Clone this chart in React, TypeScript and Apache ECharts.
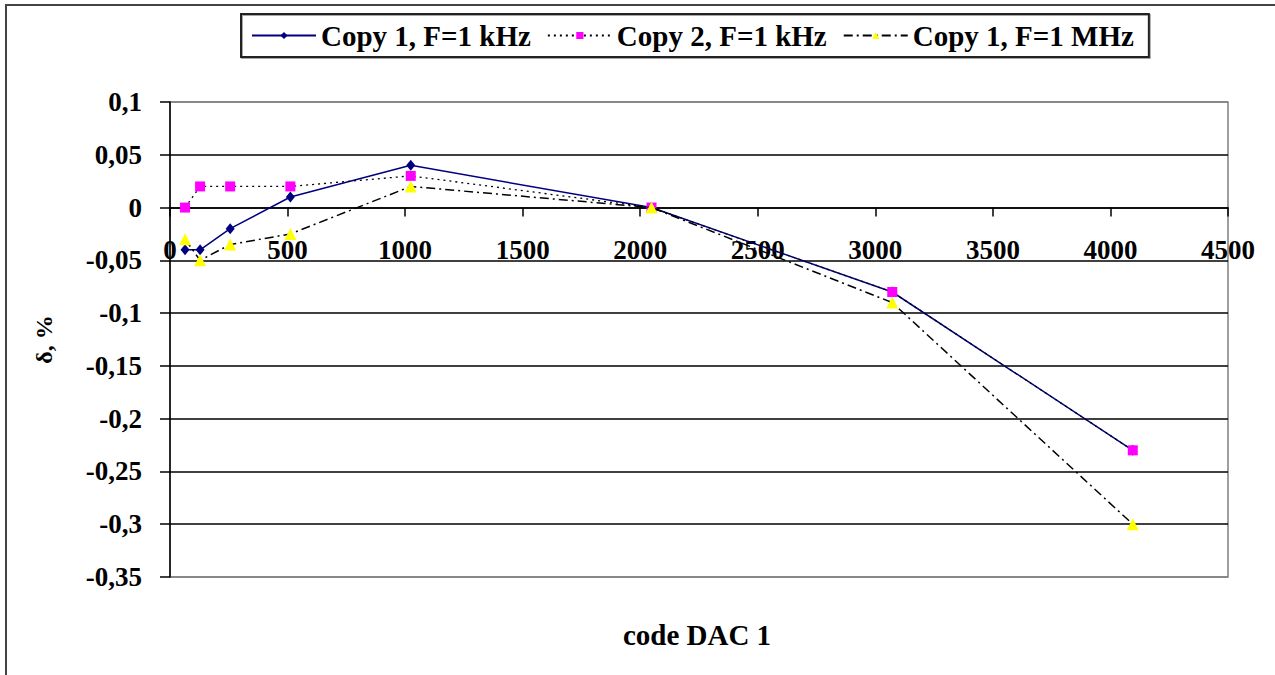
import React, { useEffect, useRef } from "react";
import * as echarts from "echarts";

// DAC codes on the horizontal axis
const codes = [64, 128, 256, 512, 1024, 2048, 3072, 4095];
// Relative error δ, % for each copy / frequency
const copy1kHz = [-0.04, -0.04, -0.02, 0.01, 0.04, 0, -0.08, -0.23];
const copy2kHz = [0, 0.02, 0.02, 0.02, 0.03, 0, -0.08, -0.23];
const copy1MHz = [-0.03, -0.05, -0.035, -0.025, 0.02, 0, -0.09, -0.3];

const seriesNames = ["Copy 1, F=1 kHz", "Copy 2, F=1 kHz", "Copy 1, F=1 MHz"];

const FONT = '"Liberation Serif", "Times New Roman", serif';

const Y_MIN = -0.35;
const Y_MAX = 0.1;
const GRID_TOP = 102;
const GRID_BOTTOM = 98;
const CHART_H = 675;

const pairs = (ys: number[]) => codes.map((c, i) => [c, ys[i]]);

export default function App() {
  const ref = useRef<HTMLDivElement>(null);

  useEffect(() => {
    if (!ref.current) return;
    const chart = echarts.init(ref.current, undefined, { renderer: "svg" });

    // horizontal axis crosses the vertical one at δ = 0
    const plotH = CHART_H - GRID_TOP - GRID_BOTTOM;
    const zeroFromBottom = ((0 - Y_MIN) / (Y_MAX - Y_MIN)) * plotH;

    const gridColors = ["#808080", "#000", "#000", "#000", "#000", "#000", "#000", "#000", "#000", "#808080"];

    chart.setOption({
      animation: false,
      backgroundColor: "#fff",
      textStyle: { fontFamily: FONT },
      grid: {
        show: true,
        left: 170,
        right: 47,
        top: GRID_TOP,
        bottom: GRID_BOTTOM,
        borderColor: "#808080",
        borderWidth: 1.5,
        backgroundColor: "transparent",
      },
      legend: {
        left: 241,
        top: 14,
        padding: [7, 15, 7, 10],
        itemGap: 16,
        itemWidth: 64,
        itemHeight: 9,
        borderColor: "#222",
        borderWidth: 2,
        shadowColor: "rgba(0,0,0,0.35)",
        shadowOffsetX: 1,
        shadowOffsetY: 1,
        textStyle: {
          fontFamily: FONT,
          fontWeight: "bold",
          fontSize: 29,
          color: "#000",
          lineHeight: 29,
        },
        data: seriesNames,
      },
      xAxis: {
        type: "value",
        min: 0,
        max: 4500,
        interval: 500,
        position: "bottom",
        offset: -zeroFromBottom,
        axisLine: { show: true, onZero: false, lineStyle: { color: "#000", width: 1.5 } },
        axisTick: { show: true, length: 9, lineStyle: { color: "#000", width: 1.5 } },
        axisLabel: {
          margin: 29,
          fontFamily: FONT,
          fontWeight: "bold",
          fontSize: 27,
          color: "#000",
          formatter: (v: number) => String(v),
        },
        splitLine: { show: false },
      },
      yAxis: {
        type: "value",
        min: Y_MIN,
        max: Y_MAX,
        interval: 0.05,
        name: "δ, %",
        nameLocation: "middle",
        nameGap: 114,
        nameRotate: 90,
        nameTextStyle: { fontFamily: FONT, fontWeight: "bold", fontSize: 24, color: "#000" },
        axisLine: { show: true, lineStyle: { color: "#000", width: 1.5 } },
        axisTick: { show: true, length: 10, lineStyle: { color: "#000", width: 1.5 } },
        axisLabel: {
          margin: 28,
          fontFamily: FONT,
          fontWeight: "bold",
          fontSize: 27,
          color: "#000",
          formatter: (v: number) => String(Number(v.toFixed(2))).replace(".", ","),
        },
        splitLine: { show: true, lineStyle: { color: gridColors, width: 1.5 } },
      },
      graphic: [
        {
          type: "rect",
          shape: { x: 6, y: 5, width: 1320, height: 720 },
          style: { fill: "none", stroke: "#444", lineWidth: 2 },
          silent: true,
          z: 100,
        },
        {
          type: "text",
          x: 697,
          y: 635,
          style: {
            text: "code DAC 1",
            fontFamily: FONT,
            fontWeight: "bold",
            fontSize: 29,
            fill: "#000",
            textAlign: "center",
            textVerticalAlign: "middle",
          },
        },
      ],
      series: [
        {
          name: seriesNames[0],
          type: "line",
          data: pairs(copy1kHz),
          symbol: "diamond",
          symbolSize: [9, 11],
          itemStyle: { color: "#000080" },
          lineStyle: { color: "#000080", width: 1.5, type: "solid" },
          z: 2,
        },
        {
          name: seriesNames[1],
          type: "line",
          data: pairs(copy2kHz),
          symbol: "rect",
          symbolSize: 10,
          itemStyle: { color: "#FF00FF" },
          lineStyle: { color: "#000", width: 1.3, type: [2, 4] },
          z: 3,
        },
        {
          name: seriesNames[2],
          type: "line",
          data: pairs(copy1MHz),
          symbol: "triangle",
          symbolSize: 12,
          itemStyle: { color: "#FFFF00" },
          lineStyle: { color: "#000", width: 1.5, type: [9, 4, 2, 4] },
          z: 4,
        },
      ],
    });

    return () => chart.dispose();
  }, []);

  return (
    <div
      ref={ref}
      style={{ position: "fixed", left: 0, top: 0, width: 1275, height: 675, background: "#fff" }}
    />
  );
}
